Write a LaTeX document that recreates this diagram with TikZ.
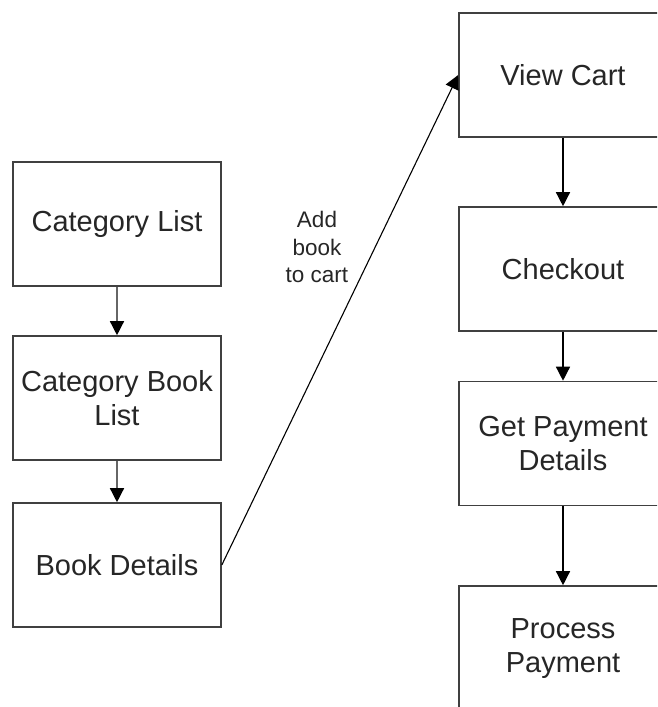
\documentclass[tikz,border=0pt]{standalone}
\usepackage{fontspec}
\setmainfont{Liberation Sans}
\usetikzlibrary{arrows.meta}
\tikzset{
	pagebox/.style={draw=black!75, line width=1.6pt, fill=white, minimum width=208pt, minimum height=124pt, inner sep=0pt, align=center, text=black!85, font=\fontsize{29}{34}\selectfont},
	flowarrow/.style={line width=1.4pt, -{Triangle[width=14pt,length=14pt,color=black]}}
}

\begin{document}
\begin{tikzpicture}[x=1pt, y=-1pt]
			%%%%% START %%%%%
			
			\useasboundingbox (0, 0) rectangle (657, 707);
			\clip (0, 0) rectangle (657, 707);
			
			\node[pagebox] (catlist) at (117, 224) {Category List};
			\node[pagebox] (catbooks) at (117, 398) {Category Book\\List};
			\node[pagebox] (details) at (117, 565) {Book Details};
			
			\node[pagebox] (cart) at (563, 75) {View Cart};
			\node[pagebox] (checkout) at (563, 269) {Checkout};
			\node[pagebox] (payinfo) at (563, 443.5) {Get Payment\\Details};
			\node[pagebox, minimum height=126pt] (process) at (563, 649) {Process\\Payment};
			
			\draw[flowarrow, draw=black!60] (catlist) -- (catbooks);
			\draw[flowarrow, draw=black!60] (catbooks) -- (details);
			
			\draw[flowarrow] (cart) -- (checkout);
			\draw[flowarrow] (checkout) -- (payinfo);
			\draw[flowarrow] (payinfo) -- (process);
			
			\draw[flowarrow, line width=1.1pt] (details.east) -- (cart.west);
			\node[align=center, text=black!85, font=\fontsize{22.5}{27.5}\selectfont] (addlabel) at (317, 247) {Add\\book\\to cart};
			
			%%%%% END %%%%%
		\end{tikzpicture}
\end{document}
